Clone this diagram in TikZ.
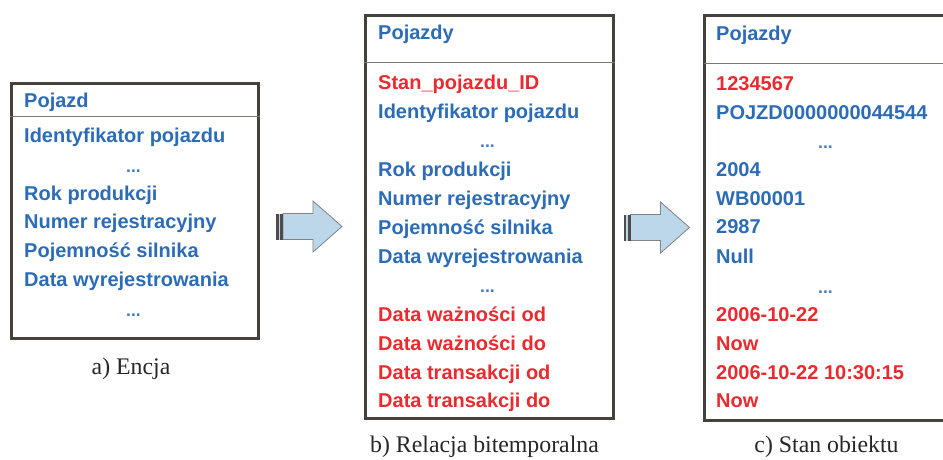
\documentclass[tikz,border=0pt]{standalone}
\usepackage{fontspec}
\setmainfont{Liberation Serif}
\newfontfamily\arialfont{Liberation Sans}
\definecolor{txtblue}{HTML}{2C6CB6}
\definecolor{dotblue}{HTML}{3F7DC4}
\definecolor{txtred}{HTML}{EA2A2E}
\definecolor{boxline}{HTML}{46413B}
\definecolor{sepline}{HTML}{7C7873}
\definecolor{arrfill}{HTML}{BCD6EA}
\definecolor{arrline}{HTML}{7F8286}
\definecolor{stripe}{HTML}{4E4C4A}
\begin{document}
\begin{tikzpicture}[x=1pt,y=-1pt,
  entbox/.style={draw=boxline,line width=3pt,rectangle,inner sep=0pt,anchor=north west},
  boxedge/.style={draw=boxline,line width=3pt},
  sepstyle/.style={draw=sepline,line width=1.2pt},
  attr/.style={font=\arialfont\bfseries\fontsize{20}{24}\selectfont,inner sep=0pt,anchor=base west},
  battr/.style={attr,text=txtblue},
  rattr/.style={attr,text=txtred},
  dots/.style={font=\arialfont\bfseries\fontsize{17.5}{20}\selectfont,inner sep=0pt,text=dotblue,anchor=base},
  capt/.style={font=\fontsize{23.8}{27}\selectfont,inner sep=0pt,anchor=base,text=black!85},
  fatarrow/.pic={
    \fill[arrfill,draw=arrline,line width=0.8pt] (7,-13) -- (37,-13) -- (37,-25.5) -- (66,0) -- (37,25.5) -- (37,13) -- (7,13) -- cycle;
    \fill[arrfill] (0,-13) rectangle (7,13);
    \fill[stripe] (0,-13) rectangle (2.5,13);
    \fill[stripe] (4,-13) rectangle (7,13);
  }]
\useasboundingbox (0,0) rectangle (943,459);
\begin{scope}
\clip (0,0) rectangle (943,459);
% boxes
\node[entbox,minimum width=247pt,minimum height=255pt] (boxa) at (10,82) {};
\node[entbox,minimum width=248pt,minimum height=403pt] (boxb) at (363.5,13.5) {};
\node[rectangle,inner sep=0pt,anchor=north west,minimum width=260pt,minimum height=405pt] (boxc) at (704,15.5) {};
\draw[boxedge] (boxc.north east) -- (boxc.north west) -- (boxc.south west) -- (boxc.south east);
\draw[sepstyle] (boxa.west |- 0,116.7) -- (boxa.east |- 0,116.7);
\draw[sepstyle] (boxb.west |- 0,62.5) -- (boxb.east |- 0,62.5);
\draw[sepstyle] (boxc.west |- 0,63.3) -- (boxc.east |- 0,63.3);
\end{scope}
% box a
\node[battr] (a0) at (24,107) {Pojazd};
\node[battr] (a1) at (24,142.7) {Identyfikator pojazdu};
\node[dots] (a2) at (133.5,172) {...};
\node[battr] (a3) at (24,200.1) {Rok produkcji};
\node[battr] (a4) at (24,228.8) {Numer rejestracyjny};
\node[battr] (a5) at (24,257.5) {Pojemność silnika};
\node[battr] (a6) at (24,286.2) {Data wyrejestrowania};
\node[dots] (a7) at (133.5,316) {...};
% box b
\node[battr] (b0) at (378,39.5) {Pojazdy};
\node[rattr] (b1) at (378,89.3) {Stan\_pojazdu\_ID};
\node[battr] (b2) at (378,118.3) {Identyfikator pojazdu};
\node[dots] (b3) at (487.5,147.5) {...};
\node[battr] (b4) at (378,176.3) {Rok produkcji};
\node[battr] (b5) at (378,205.3) {Numer rejestracyjny};
\node[battr] (b6) at (378,234.3) {Pojemność silnika};
\node[battr] (b7) at (378,263.3) {Data wyrejestrowania};
\node[dots] (b8) at (487.5,292.5) {...};
\node[rattr] (b9) at (378,321.3) {Data ważności od};
\node[rattr] (b10) at (378,350.3) {Data ważności do};
\node[rattr] (b11) at (378,379.3) {Data transakcji od};
\node[rattr] (b12) at (378,407.8) {Data transakcji do};
% box c
\node[battr] (c0) at (716,40) {Pojazdy};
\node[rattr] (c1) at (716,90.5) {1234567};
\node[battr] (c2) at (716,119.3) {POJZD0000000044544};
\node[dots] (c3) at (825.5,148.5) {...};
\node[battr] (c4) at (716,176.7) {2004};
\node[battr] (c5) at (716,205.2) {WB00001};
\node[battr] (c6) at (716,233.6) {2987};
\node[battr] (c7) at (716,263) {Null};
\node[dots] (c8) at (825.5,293.5) {...};
\node[rattr] (c9) at (716,321.5) {2006-10-22};
\node[rattr] (c10) at (716,350) {Now};
\node[rattr] (c11) at (716,379.5) {2006-10-22 10:30:15};
\node[rattr] (c12) at (716,407.5) {Now};
% arrows
\pic at (276,226.5) {fatarrow};
\pic at (623.5,227.5) {fatarrow};
% captions
\node[capt] (capa) at (131,374) {a) Encja};
\node[capt] (capb) at (484.5,452) {b) Relacja bitemporalna};
\node[capt] (capc) at (826.5,452.5) {c) Stan obiektu};
\end{tikzpicture}
\end{document}
